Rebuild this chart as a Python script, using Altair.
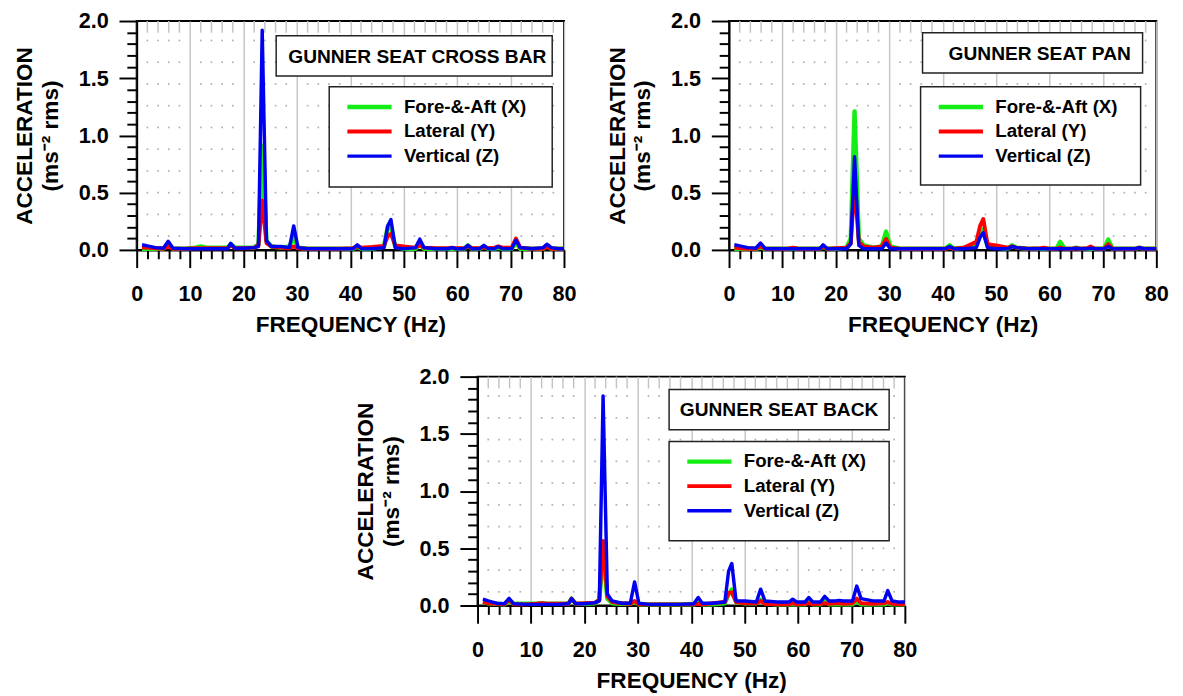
import altair as alt
import pandas as pd

FONT = "Liberation Sans"

SERIES = ["Fore-&-Aft (X)", "Lateral (Y)", "Vertical (Z)"]
COLORS = ["#14ee14", "#ff0000", "#0000f0"]
WIDTHS = [4.5, 3.5, 2.0]

FREQ = [1, 2, 3.5, 5, 5.9, 6.8, 9, 11, 12, 13,
        15, 17, 17.6, 18.4, 20, 22, 22.8, 23.5, 24.3, 25.2,
        27, 28.6, 29.4, 30.2, 32, 35, 38, 40.5, 41.3, 42.1,
        44, 46.3, 47.0, 47.6, 48.4, 50, 52.2, 53, 53.8, 56,
        58.3, 59, 59.8, 61.3, 62, 62.8, 64.2, 65, 65.8, 67,
        67.7, 68.5, 70.2, 71, 71.8, 74, 76.1, 76.8, 77.6, 79,
        80]

# GUNNER SEAT CROSS BAR
CB_X = [0.01, 0.01, 0.01, 0.01, 0.05, 0.01, 0.01, 0.02, 0.03, 0.02,
        0.02, 0.02, 0.05, 0.02, 0.02, 0.02, 0.05, 0.91, 0.08, 0.03,
        0.02, 0.03, 0.115, 0.02, 0.01, 0.01, 0.01, 0.01, 0.03, 0.01,
        0.01, 0.03, 0.20, 0.21, 0.03, 0.01, 0.01, 0.05, 0.01, 0.01,
        0.01, 0.01, 0.01, 0.01, 0.04, 0.01, 0.01, 0.03, 0.01, 0.01,
        0.02, 0.01, 0.01, 0.06, 0.01, 0.01, 0.01, 0.04, 0.01, 0.01,
        0.01]
CB_Y = [0.02, 0.02, 0.015, 0.01, 0.03, 0.01, 0.01, 0.015, 0.015, 0.015,
        0.015, 0.015, 0.04, 0.015, 0.015, 0.02, 0.04, 0.43, 0.06, 0.03,
        0.02, 0.015, 0.03, 0.015, 0.01, 0.01, 0.01, 0.015, 0.03, 0.02,
        0.025, 0.035, 0.12, 0.14, 0.04, 0.03, 0.02, 0.04, 0.02, 0.015,
        0.015, 0.02, 0.015, 0.015, 0.03, 0.015, 0.015, 0.025, 0.015, 0.02,
        0.03, 0.02, 0.02, 0.10, 0.02, 0.01, 0.01, 0.025, 0.01, 0.01,
        0.01]
CB_Z = [0.045, 0.035, 0.02, 0.015, 0.075, 0.015, 0.01, 0.01, 0.01, 0.01,
        0.01, 0.01, 0.057, 0.015, 0.015, 0.02, 0.03, 1.92, 0.08, 0.03,
        0.03, 0.02, 0.21, 0.02, 0.01, 0.01, 0.01, 0.01, 0.045, 0.01,
        0.01, 0.02, 0.21, 0.265, 0.02, 0.01, 0.02, 0.094, 0.02, 0.01,
        0.01, 0.02, 0.01, 0.01, 0.04, 0.01, 0.01, 0.04, 0.01, 0.01,
        0.03, 0.01, 0.01, 0.085, 0.02, 0.01, 0.02, 0.05, 0.02, 0.01,
        0.01]

# GUNNER SEAT PAN
PAN_X = [0.01, 0.01, 0.01, 0.01, 0.02, 0.01, 0.01, 0.01, 0.015, 0.01,
         0.01, 0.01, 0.03, 0.01, 0.01, 0.02, 0.10, 1.21, 0.10, 0.04,
         0.02, 0.03, 0.16, 0.03, 0.01, 0.01, 0.01, 0.01, 0.04, 0.01,
         0.02, 0.04, 0.13, 0.18, 0.03, 0.02, 0.01, 0.04, 0.02, 0.01,
         0.01, 0.01, 0.01, 0.01, 0.07, 0.01, 0.01, 0.02, 0.01, 0.01,
         0.01, 0.01, 0.01, 0.09, 0.01, 0.01, 0.01, 0.02, 0.01, 0.01,
         0.01]
PAN_Y = [0.02, 0.015, 0.01, 0.01, 0.03, 0.01, 0.01, 0.01, 0.02, 0.01,
         0.01, 0.01, 0.03, 0.01, 0.015, 0.02, 0.06, 0.57, 0.07, 0.03,
         0.02, 0.03, 0.095, 0.02, 0.01, 0.01, 0.01, 0.01, 0.02, 0.01,
         0.02, 0.07, 0.21, 0.27, 0.05, 0.04, 0.02, 0.03, 0.02, 0.01,
         0.015, 0.02, 0.01, 0.01, 0.02, 0.01, 0.01, 0.015, 0.01, 0.015,
         0.03, 0.01, 0.01, 0.05, 0.01, 0.01, 0.01, 0.02, 0.01, 0.01,
         0.01]
PAN_Z = [0.045, 0.035, 0.02, 0.015, 0.06, 0.01, 0.01, 0.01, 0.01, 0.01,
         0.01, 0.01, 0.045, 0.01, 0.01, 0.01, 0.05, 0.815, 0.04, 0.01,
         0.01, 0.01, 0.06, 0.01, 0.01, 0.01, 0.01, 0.01, 0.03, 0.01,
         0.01, 0.02, 0.11, 0.15, 0.02, 0.01, 0.01, 0.03, 0.02, 0.01,
         0.01, 0.01, 0.01, 0.01, 0.01, 0.01, 0.01, 0.015, 0.01, 0.01,
         0.015, 0.01, 0.01, 0.03, 0.01, 0.01, 0.01, 0.02, 0.01, 0.01,
         0.01]

# GUNNER SEAT BACK
BACK_X = [0.03, 0.02, 0.015, 0.01, 0.04, 0.015, 0.015, 0.015, 0.02, 0.015,
          0.015, 0.015, 0.06, 0.015, 0.015, 0.02, 0.05, 0.46, 0.06, 0.02,
          0.015, 0.015, 0.03, 0.01, 0.01, 0.01, 0.01, 0.01, 0.02, 0.01,
          0.01, 0.02, 0.10, 0.14, 0.03, 0.02, 0.02, 0.05, 0.02, 0.01,
          0.01, 0.01, 0.01, 0.01, 0.04, 0.01, 0.01, 0.04, 0.01, 0.01,
          0.01, 0.01, 0.01, 0.04, 0.01, 0.01, 0.01, 0.02, 0.01, 0.01,
          0.01]
BACK_Y = [0.03, 0.02, 0.015, 0.01, 0.05, 0.01, 0.01, 0.015, 0.02, 0.015,
          0.015, 0.015, 0.06, 0.015, 0.02, 0.025, 0.05, 0.565, 0.08, 0.03,
          0.02, 0.015, 0.04, 0.01, 0.01, 0.01, 0.01, 0.01, 0.015, 0.01,
          0.02, 0.03, 0.11, 0.115, 0.03, 0.02, 0.02, 0.04, 0.015, 0.01,
          0.01, 0.02, 0.01, 0.015, 0.02, 0.01, 0.015, 0.02, 0.015, 0.02,
          0.02, 0.015, 0.02, 0.06, 0.02, 0.015, 0.02, 0.03, 0.015, 0.01,
          0.01]
BACK_Z = [0.055, 0.04, 0.02, 0.015, 0.063, 0.015, 0.01, 0.01, 0.01, 0.01,
          0.01, 0.015, 0.06, 0.015, 0.015, 0.025, 0.04, 1.83, 0.10, 0.04,
          0.02, 0.02, 0.206, 0.02, 0.01, 0.01, 0.01, 0.015, 0.07, 0.02,
          0.02, 0.03, 0.30, 0.367, 0.04, 0.04, 0.03, 0.143, 0.04, 0.03,
          0.03, 0.055, 0.03, 0.03, 0.07, 0.03, 0.03, 0.08, 0.04, 0.04,
          0.045, 0.04, 0.04, 0.17, 0.06, 0.04, 0.04, 0.13, 0.04, 0.03,
          0.03]

X_TICKS = list(range(0, 81, 2))
X_MINOR = [f for f in X_TICKS if f % 10 != 0]
Y_TICKS = [round(i * 0.1, 1) for i in range(21)]
DOT_ROWS = [0.12, 0.31, 0.5, 0.69, 0.88, 1.07, 1.26, 1.45, 1.64, 1.83]

W, H = 435, 233

x_scale = alt.Scale(domain=[0, 80], nice=False, zero=False)
y_scale = alt.Scale(domain=[0, 2], nice=False, zero=False)

X_MAJ = "datum.value % 10 === 0"
Y_MAJ = "round(datum.value * 10) % 5 === 0"

x_axis = alt.Axis(
    values=X_TICKS, title="FREQUENCY (Hz)", format="d",
    labelExpr=f"{X_MAJ} ? datum.label : ''",
    tickSize=18, labelPadding=17, titlePadding=9,
    tickDash={"condition": {"test": X_MAJ, "value": [18, 4]}, "value": [9, 30]},
    grid=True, gridColor="#c6c6c6", gridWidth=1.5,
    gridOpacity={"condition": {"test": X_MAJ, "value": 1}, "value": 0},
    labelFlush=False, labelOverlap=False)
y_axis = alt.Axis(
    values=Y_TICKS, title=["ACCELERATION", "(ms\u207b\u00b2 rms)"], format=".1f",
    labelExpr=f"{Y_MAJ} ? datum.label : ''",
    tickSize=18, labelPadding=11, titlePadding=16,
    tickDash={"condition": {"test": Y_MAJ, "value": [18, 4]}, "value": [10, 30]},
    grid=False, labelOverlap=False, labelFlush=False, titleLineHeight=26)


def panel(name, xs, ys, zs, title_box, legend_box, text_x):
    df = pd.DataFrame({
        "freq": FREQ * 3,
        "acc": xs + ys + zs,
        "series": [s for s in SERIES for _ in FREQ],
    })
    X = alt.X("freq:Q", scale=x_scale, axis=x_axis)
    Y = alt.Y("acc:Q", scale=y_scale, axis=y_axis)

    dots_df = pd.DataFrame([(f, v) for f in X_MINOR for v in DOT_ROWS],
                           columns=["freq", "acc"])
    dots = alt.Chart(dots_df).mark_square(size=3, color="#b0b0b0", opacity=1).encode(x=X, y=Y)

    xmin_df = pd.DataFrame({"freq": X_MINOR})
    top_ticks = alt.Chart(xmin_df).mark_tick(
        color="#c4c4c4", thickness=1.5, size=12, orient="vertical", opacity=1
    ).encode(x=X, y=alt.value(6))

    one = pd.DataFrame({"k": [0]})
    tb = alt.Chart(one).mark_rect(fill="white", stroke="#222222", strokeWidth=1.5).encode(
        x=alt.value(title_box[0]), x2=alt.value(title_box[1]),
        y=alt.value(title_box[2]), y2=alt.value(title_box[3]))
    lb = alt.Chart(one).mark_rect(fill="white", stroke="#222222", strokeWidth=1.5).encode(
        x=alt.value(legend_box[0]), x2=alt.value(legend_box[1]),
        y=alt.value(legend_box[2]), y2=alt.value(legend_box[3]))
    txt = alt.Chart(one).mark_text(align="right", baseline="middle", font=FONT,
                                   fontSize=19.5, fontWeight="bold", color="black").encode(
        x=alt.value(text_x), y=alt.value((title_box[2] + title_box[3]) / 2 + 1),
        text=alt.value(name))

    leg = alt.Legend(title=None, orient="none",
                     legendX=legend_box[0] + 16, legendY=legend_box[2] + 8,
                     symbolType="stroke", symbolSize=2025, clipHeight=25,
                     rowPadding=0, padding=0, labelOffset=10,
                     labelFont=FONT, labelFontSize=19, labelFontWeight="bold",
                     labelColor="black", zindex=1, labelLimit=300)
    lines = alt.Chart(df).mark_line(strokeJoin="round").encode(
        x=X, y=Y,
        color=alt.Color("series:N", scale=alt.Scale(domain=SERIES, range=COLORS), legend=leg),
        strokeWidth=alt.StrokeWidth("series:N", scale=alt.Scale(domain=SERIES, range=WIDTHS), legend=leg),
    )
    return alt.layer(dots, top_ticks, lines, tb, lb, txt,
                     view=alt.ViewBackground(stroke="black", strokeWidth=2, fill="white")
                     ).properties(width=W, height=H)


tl = panel("GUNNER SEAT CROSS BAR", CB_X, CB_Y, CB_Z,
           (142, 423, 15, 56), (196, 423, 67, 169), 417)
tr = panel("GUNNER SEAT PAN", PAN_X, PAN_Y, PAN_Z,
           (197, 421, 12, 53), (195, 419, 67, 167), 409)
bk = panel("GUNNER SEAT BACK", BACK_X, BACK_Y, BACK_Z,
           (195, 419, 13, 54), (195, 419, 66, 167), 408)

spacer = alt.Chart(pd.DataFrame({"s": [0]})).mark_point(opacity=0).encode(
    x=alt.X("s:Q", axis=None), y=alt.Y("s:Q", axis=None)
).properties(width=201, height=5, view=alt.ViewBackground(strokeOpacity=0))

RES = dict(x="independent", y="independent", color="independent", strokeWidth="independent")

row1 = alt.hconcat(tl, tr, spacing=28).resolve_scale(**RES)
row2 = alt.hconcat(spacer, bk, spacing=20).resolve_scale(**RES)

chart = alt.vconcat(row1, row2, spacing=28).resolve_scale(**RES).properties(
    padding={"left": 5, "top": -5, "right": 5, "bottom": 5},
    background="white",
).configure_axis(
    domainColor="black", domainWidth=2, tickColor="black", tickWidth=2,
    labelFont=FONT, labelFontSize=22, labelFontWeight="bold", labelColor="black",
    titleFont=FONT, titleFontSize=23, titleFontWeight="bold", titleColor="black",
)

chart.save("out.html", embed_options={"renderer": "svg", "actions": False})
